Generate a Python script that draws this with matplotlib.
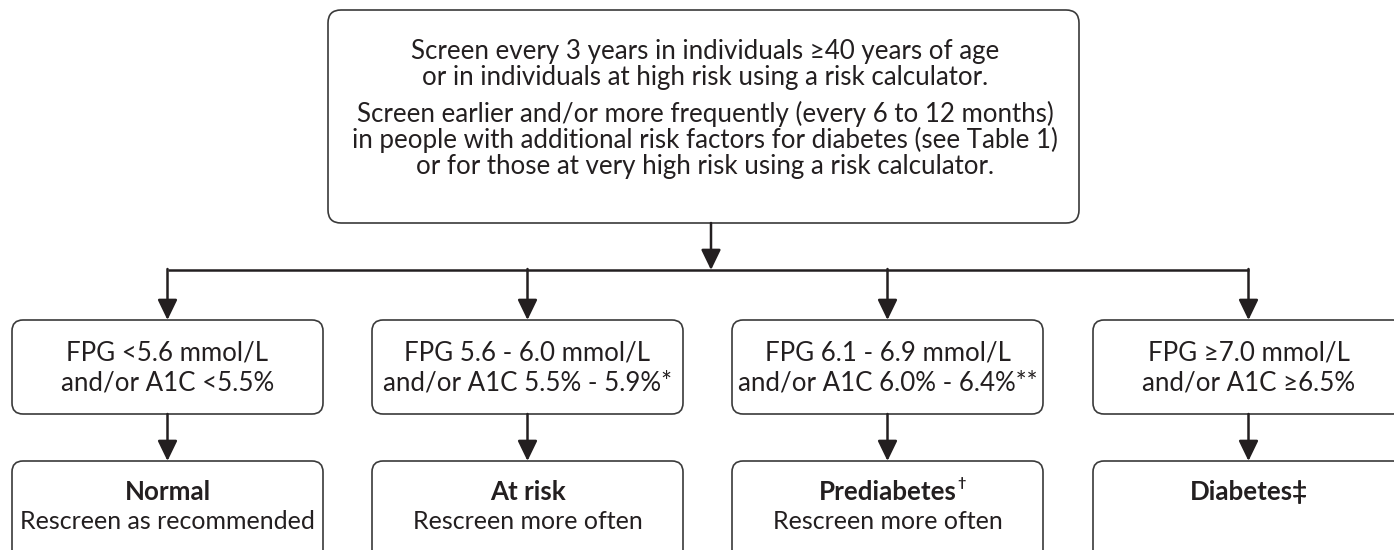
import matplotlib
matplotlib.use('Agg')
import matplotlib.pyplot as plt
from matplotlib.patches import FancyBboxPatch

plt.rcParams['font.family'] = ['Lato', 'DejaVu Sans']

# texts of the flow chart
top_lines = [
    'Screen every 3 years in individuals \u226540 years of age',
    'or in individuals at high risk using a risk calculator.',
    'Screen earlier and/or more frequently (every 6 to 12 months)',
    'in people with additional risk factors for diabetes (see Table 1)',
    'or for those at very high risk using a risk calculator.',
]
criteria_fpg = ['FPG <5.6 mmol/L', 'FPG 5.6 - 6.0 mmol/L', 'FPG 6.1 - 6.9 mmol/L', 'FPG \u22657.0 mmol/L']
criteria_a1c = ['and/or A1C <5.5%', 'and/or A1C 5.5% - 5.9%*', 'and/or A1C 6.0% - 6.4%**', 'and/or A1C \u22656.5%']
outcomes = ['Normal', 'At risk', 'Prediabetes', 'Diabetes\u2021']
outcome_marks = ['', '', '\u2020', '']
advice = ['Rescreen as recommended', 'Rescreen more often', 'Rescreen more often', '']

ink = '#231f20'
edge = '#3a3a3a'
fs = 18.6

fig = plt.figure(figsize=(13.94, 5.5), dpi=100)
ax = fig.add_axes([0, 0, 1, 1])
ax.set_xlim(0, 1394)
ax.set_ylim(550, 0)
ax.axis('off')


def box(x0, y0, x1, y1, r=11):
    p = FancyBboxPatch((x0 + r, y0 + r), x1 - x0 - 2 * r, y1 - y0 - 2 * r,
                       boxstyle='round,pad=%d' % r, fc='white', ec=edge, lw=1.2)
    ax.add_patch(p)


def arrow(x, y0, y1):
    ax.annotate('', xy=(x, y1), xytext=(x, y0),
                arrowprops=dict(arrowstyle='-|>,head_length=0.62,head_width=0.3',
                                mutation_scale=20, lw=1.8, color=ink,
                                shrinkA=0, shrinkB=0))


# top box
box(328, 10, 1079, 223, r=13)
top_base = [59, 85, 122, 148, 174]
for line, y in zip(top_lines, top_base):
    ax.text(705, y, line, ha='center', va='baseline', fontsize=fs, color=ink)

# connectors
arrow(711, 223, 270)
col_x = [167.5, 527.5, 887.5, 1248.5]
ax.plot([col_x[0], col_x[-1]], [270, 270], color=ink, lw=1.8, solid_capstyle='butt')

half_w = 155.5
for i, cx in enumerate(col_x):
    arrow(cx, 269, 320)
    box(cx - half_w, 320, cx + half_w, 414)
    ax.text(cx, 361, criteria_fpg[i], ha='center', va='baseline', fontsize=fs, color=ink)
    ax.text(cx, 390, criteria_a1c[i], ha='center', va='baseline', fontsize=fs, color=ink)
    arrow(cx, 414, 461)
    box(cx - half_w, 461, cx + half_w, 570)
    t = ax.text(cx, 500, outcomes[i], ha='center', va='baseline', fontsize=fs,
                fontweight='bold', color=ink)
    if outcome_marks[i]:
        fig.canvas.draw()
        bb = t.get_window_extent().transformed(ax.transData.inverted())
        ax.text(bb.x1 + 1, 487, outcome_marks[i], ha='left', va='baseline',
                fontsize=fs * 0.55, fontweight='bold', color=ink)
    if advice[i]:
        ax.text(cx, 529, advice[i], ha='center', va='baseline', fontsize=fs * 0.97, color=ink)

fig.savefig('out.png', dpi=100)
